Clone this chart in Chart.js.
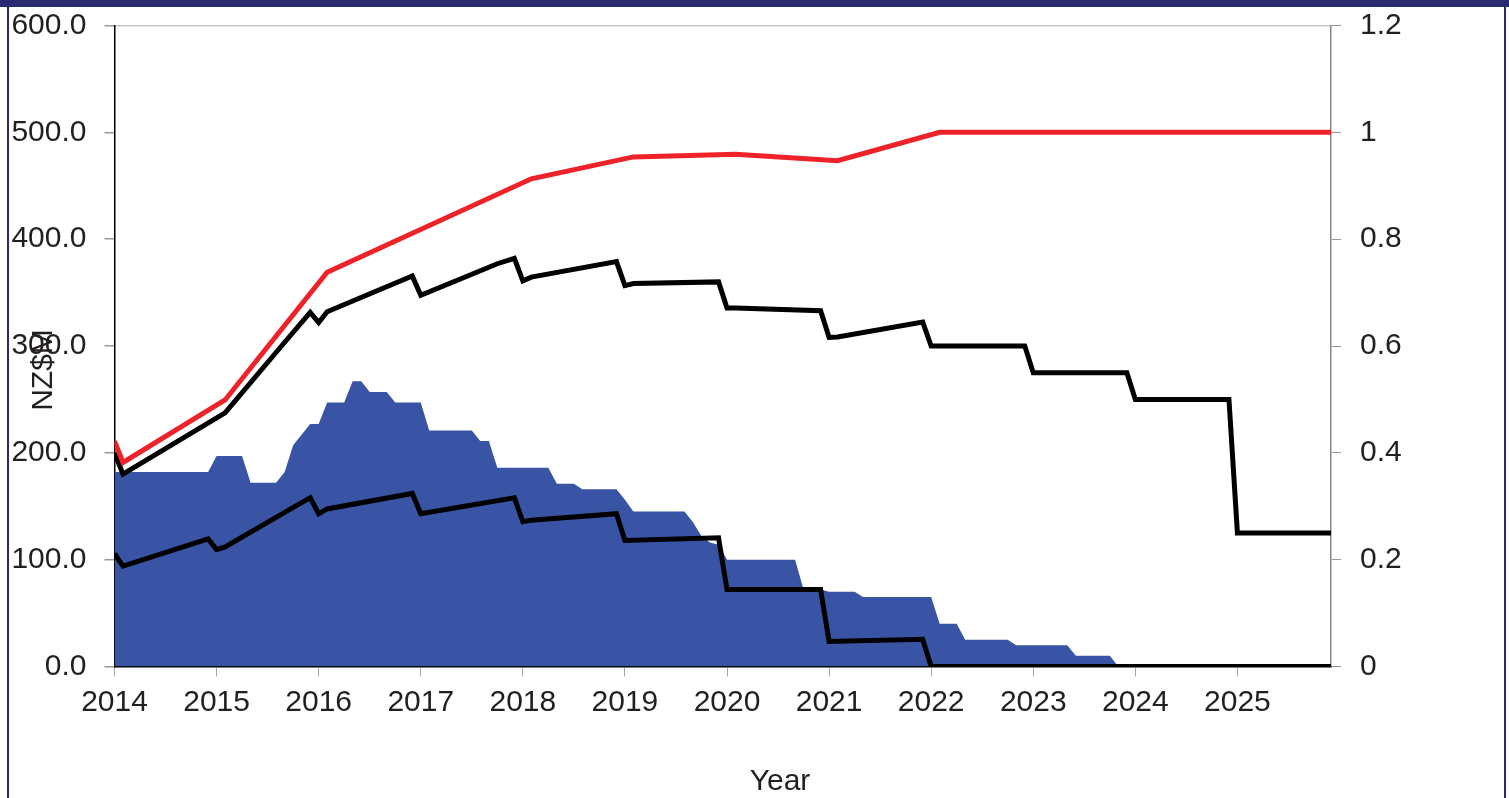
<!DOCTYPE html>
<html>
<head>
<meta charset="utf-8">
<script src="https://cdn.jsdelivr.net/npm/chart.js@4/dist/chart.umd.min.js"></script>
<style>
  body { margin: 0; background: #fff; overflow: hidden; }
  #wrap { position: relative; width: 1509px; height: 798px; }
  canvas { position: absolute; left: 0; top: 0; }
  .frame { position: absolute; background: #28296e; }
</style>
</head>
<body>
<div id="wrap">
  <canvas id="chart" width="1509" height="798"></canvas>
  <div class="frame" style="left:0;top:0;width:1509px;height:7px"></div>
  <div class="frame" style="left:7px;top:0;width:2px;height:798px"></div>
  <div class="frame" style="left:1504px;top:0;width:2px;height:798px"></div>
</div>
<script>
// Blue area, NZ$M (left axis)
const areaYears = [2014.0, 2014.917, 2015.0, 2015.25, 2015.333, 2015.583, 2015.667, 2015.75, 2015.917, 2016.0,
  2016.083, 2016.25, 2016.333, 2016.417, 2016.5, 2016.667, 2016.75, 2017.0, 2017.083, 2017.5,
  2017.583, 2017.667, 2017.75, 2018.25, 2018.333, 2018.5, 2018.583, 2018.917, 2019.0, 2019.083,
  2019.583, 2019.667, 2019.75, 2019.833, 2019.917, 2020.0, 2020.667, 2020.75, 2020.917, 2021.0,
  2021.25, 2021.333, 2022.0, 2022.083, 2022.25, 2022.333, 2022.75, 2022.833, 2023.333, 2023.417,
  2023.75, 2023.833];
const areaValues = [182, 182, 197, 197, 172, 172, 182, 207, 227, 227,
  247, 247, 267, 267, 257, 257, 247, 247, 221, 221,
  211, 211, 186, 186, 171, 171, 166, 166, 156, 145,
  145, 135, 122, 116, 114, 100, 100, 72, 72, 70,
  70, 65, 65, 40, 40, 25, 25, 20, 20, 10,
  10, 0];

// Red line (right axis)
const redYears = [2014.0, 2014.083, 2015.083, 2016.083, 2018.083, 2019.083, 2020.083, 2021.083, 2022.083, 2025.917];
const redValues = [0.422, 0.382, 0.499, 0.738, 0.913, 0.954, 0.959, 0.947, 1.0, 1.0];

// Upper black line (right axis)
const upperYears = [2014.0, 2014.083, 2015.083, 2015.667, 2015.917, 2016.0, 2016.083, 2016.917, 2017.0, 2017.75,
  2017.917, 2018.0, 2018.083, 2018.917, 2019.0, 2019.083, 2019.917, 2020.0, 2020.083, 2020.917,
  2021.0, 2021.083, 2021.917, 2022.0, 2022.917, 2023.0, 2023.917, 2024.0, 2024.917, 2025.0, 2025.917];
const upperValues = [0.40, 0.36, 0.475, 0.607, 0.663, 0.644, 0.664, 0.731, 0.695, 0.754,
  0.764, 0.722, 0.729, 0.758, 0.713, 0.717, 0.720, 0.671, 0.671, 0.666,
  0.616, 0.617, 0.645, 0.60, 0.60, 0.55, 0.55, 0.50, 0.50, 0.25, 0.25];

// Lower black line (right axis)
const lowerYears = [2014.0, 2014.083, 2014.917, 2015.0, 2015.083, 2015.917, 2016.0, 2016.083, 2016.917, 2017.0,
  2017.917, 2018.0, 2018.083, 2018.917, 2019.0, 2019.917, 2020.0, 2020.917, 2021.0, 2021.917,
  2022.0, 2025.917];
const lowerValues = [0.211, 0.188, 0.239, 0.219, 0.224, 0.316, 0.286, 0.295, 0.324, 0.286,
  0.316, 0.271, 0.274, 0.286, 0.236, 0.241, 0.144, 0.144, 0.047, 0.051,
  0, 0];

const firstYear = 2014;
const lastYear = 2014 + 143 / 12;

function points(xs, ys) {
    return xs.map((x, i) => ({ x: x, y: ys[i] }));
}

const textColor = '#231f20';
const bigFont = { family: "'Liberation Sans', Arial, sans-serif", size: 30 };

// axis titles placed like the original (off-centre)
const titlePlugin = {
    id: 'titles',
    afterDraw(chart) {
        const ctx = chart.ctx;
        ctx.save();
        ctx.fillStyle = textColor;
        ctx.font = "30px 'Liberation Sans', Arial, sans-serif";
        ctx.textAlign = 'center';
        ctx.textBaseline = 'alphabetic';
        ctx.fillText('Year', 780, 790);
        ctx.translate(51.5, 370);
        ctx.rotate(-Math.PI / 2);
        ctx.fillText('NZ$M', 0, 0);
        ctx.restore();
    }
};

// stop label overflow from pushing the plot area around
function fitY(width) {
    return s => {
        s.width = width;
        s.paddingTop = 0;
        s.paddingBottom = 0;
    };
}

new Chart(document.getElementById('chart'), {
    type: 'line',
    data: {
        datasets: [
            {
                data: points(redYears, redValues),
                yAxisID: 'y1',
                borderColor: '#ee2229',
                borderWidth: 5,
                pointRadius: 0,
                fill: false,
                tension: 0
            },
            {
                data: points(upperYears, upperValues),
                yAxisID: 'y1',
                borderColor: '#000000',
                borderWidth: 5,
                pointRadius: 0,
                fill: false,
                tension: 0
            },
            {
                data: points(lowerYears, lowerValues),
                yAxisID: 'y1',
                borderColor: '#000000',
                borderWidth: 5,
                pointRadius: 0,
                fill: false,
                tension: 0
            },
            {
                data: points(areaYears, areaValues),
                yAxisID: 'y',
                borderWidth: 0,
                borderColor: 'rgba(0,0,0,0)',
                backgroundColor: '#3954a5',
                pointRadius: 0,
                fill: 'origin',
                tension: 0
            }
        ]
    },
    options: {
        responsive: false,
        animation: false,
        devicePixelRatio: 1,
        layout: { padding: { top: 25.5, left: 0, right: 0, bottom: 0 } },
        plugins: {
            legend: { display: false },
            tooltip: { enabled: false }
        },
        scales: {
            x: {
                type: 'linear',
                min: firstYear,
                max: lastYear,
                ticks: {
                    stepSize: 1,
                    includeBounds: false,
                    autoSkip: false,
                    maxRotation: 0,
                    padding: 8,
                    color: textColor,
                    font: bigFont,
                    callback: v => String(v)
                },
                grid: { drawOnChartArea: false, tickLength: 10, tickColor: '#aaaaaa' },
                border: { color: '#000000', width: 1.5 },
                afterFit: s => {
                    s.height = 798 - 666.5;
                    s.paddingLeft = 0;
                    s.paddingRight = 0;
                }
            },
            y: {
                position: 'left',
                min: 0,
                max: 600,
                ticks: {
                    stepSize: 100,
                    padding: 18,
                    color: textColor,
                    font: bigFont,
                    callback: v => v.toFixed(1)
                },
                grid: {
                    drawOnChartArea: true,
                    color: ctx => (ctx.tick && ctx.tick.value === 600) ? '#c8c8c8' : 'rgba(0,0,0,0)',
                    lineWidth: 1.5,
                    tickLength: 10,
                    tickColor: '#999999'
                },
                border: { color: '#000000', width: 1.5 },
                afterFit: fitY(114.5)
            },
            y1: {
                position: 'right',
                min: 0,
                max: 1.2,
                ticks: {
                    stepSize: 0.2,
                    padding: 19,
                    color: textColor,
                    font: bigFont,
                    callback: v => String(+v.toFixed(1))
                },
                grid: { drawOnChartArea: false, tickLength: 10, tickColor: '#999999' },
                border: { color: '#888888', width: 1.5 },
                afterFit: fitY(1509 - 1331)
            }
        }
    },
    plugins: [titlePlugin]
});
</script>
</body>
</html>
